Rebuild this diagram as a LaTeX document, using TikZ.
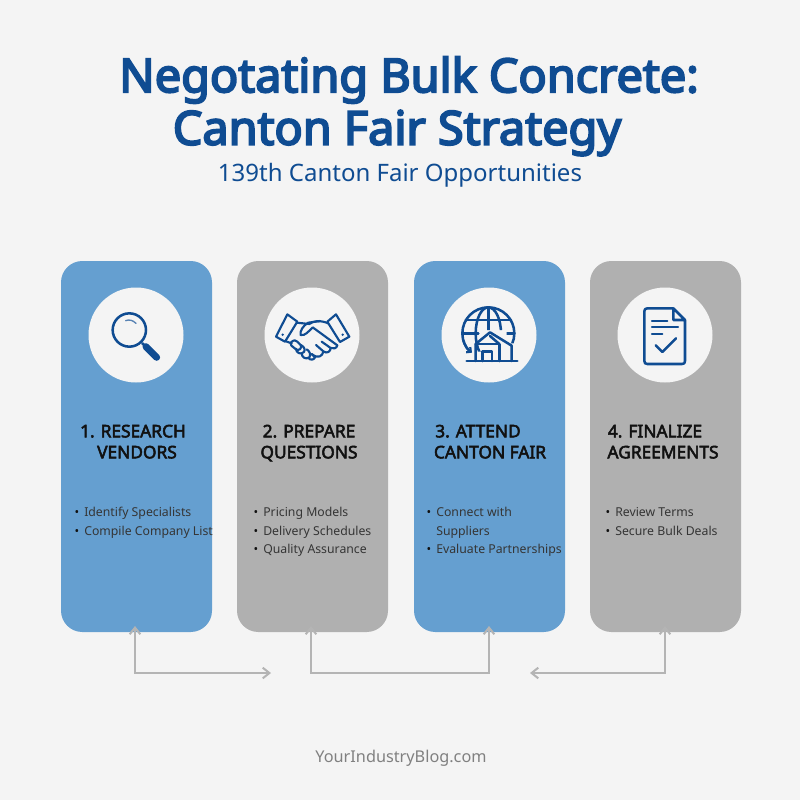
\documentclass[tikz,border=0pt]{standalone}
\usepackage{fontspec}
\setmainfont{Noto Sans}[AutoFakeBold=3]
\newfontfamily\titlefont{Noto Sans}[FakeBold=4.2]
\usetikzlibrary{arrows.meta}
\definecolor{bgc}{HTML}{F4F4F4}
\definecolor{navy}{HTML}{0F4C92}
\definecolor{cardblue}{HTML}{659FD0}
\definecolor{cardgrey}{HTML}{B0B0B0}
\definecolor{linkgrey}{HTML}{B4B4B4}
\definecolor{ink}{HTML}{111111}
\tikzset{
  x=0.75pt,y=-0.75pt,
  card/.style={inner sep=0,minimum width=113.25pt,minimum height=278.25pt,rounded corners=16pt},
  bluecard/.style={card,fill=cardblue},
  greycard/.style={card,fill=cardgrey},
  badge/.style={circle,fill=bgc,inner sep=0,minimum size=71.25pt},
  titleline/.style={inner sep=0,text=navy,text height=26pt,text depth=7pt,font=\fontsize{35.1pt}{42pt}\titlefont},
  heading/.style={inner sep=0,text height=9pt,text depth=2.5pt,font=\fontsize{13pt}{15pt}\selectfont\bfseries,text=ink},
  item/.style={inner sep=0,anchor=west,text height=7pt,text depth=2pt,font=\fontsize{9.2pt}{11pt}\selectfont,text=ink!85},
  dotmark/.style={inner sep=0,text height=7pt,text depth=2pt,font=\fontsize{9.2pt}{11pt}\selectfont,text=ink},
  icon/.style={draw=navy,line width=1.6pt,line join=round,line cap=round},
  link/.style={draw=linkgrey,line width=1.7pt},
  bothheads/.style={{Straight Barb[length=5pt,width=8pt,line width=1.5pt]}-{Straight Barb[length=5pt,width=8pt,line width=1.5pt]}},
}
\begin{document}
\begin{tikzpicture}
\fill[bgc] (0,0) rectangle (800,800);
\useasboundingbox (0,0) rectangle (800,800);
\node[titleline] (title1) at (409,79.5) {Negotating Bulk Concrete:};
\node[titleline] (title2) at (397,132) {Canton Fair Strategy};
\node[inner sep=0,text=navy,text height=13pt,text depth=4pt,font=\fontsize{18pt}{22pt}\selectfont] (subtitle) at (400,175) {139th Canton Fair Opportunities};

\node[bluecard] (c1) at (136.5,446.5) {};
\node[greycard] (c2) at (312.5,446.5) {};
\node[bluecard] (c3) at (489.5,446.5) {};
\node[greycard] (c4) at (665.5,446.5) {};
\node[badge] (b1) at (136,335) {};
\node[badge] (b2) at (312,335) {};
\node[badge] (b3) at (489,335) {};
\node[badge] (b4) at (665,335) {};

\begin{scope}[shift={(60,280)},x=0.25pt,y=-0.25pt]
% magnifier
\draw[icon,line width=1.9pt] (208,150) circle (50);
\draw[icon,line width=1pt,draw=navy!70] (197,122) .. controls (207,118) and (218,120) .. (228,130);
\draw[icon,line width=2pt] (247,190) -- (258,200);
\draw[icon,line width=5.2pt] (258,200) -- (290,232);
% handshake
\draw[icon] (682,103) -- (712,125) -- (675,185) -- (648,170) -- cycle;
\draw[icon] (828,103) -- (868,170) -- (840,186) -- (802,125) -- cycle;
\fill[navy] (668,164) circle (4) (848,164) circle (4);
\draw[icon] (710,128) -- (748,132) .. controls (760,122) and (780,120) .. (805,130);
\draw[icon] (780,123) -- (745,128) .. controls (730,135) and (718,155) .. (722,165) .. controls (735,168) and (745,155) .. (758,142) -- (832,196);
\draw[icon] (675,183) -- (695,190);
\draw[icon] (832,196) .. controls (830,205) and (820,208) .. (812,204) -- (785,185);
\draw[icon] (812,204) .. controls (812,215) and (800,222) .. (790,214) -- (768,195);
\draw[icon] (790,214) .. controls (788,228) and (775,238) .. (755,222);
\draw[icon] (700,182) .. controls (690,186) and (690,195) .. (698,200) -- (708,208) .. controls (715,214) and (728,205) .. (722,195) -- (712,185) .. controls (706,180) and (702,181) .. (700,182);
\draw[icon] (708,206) .. controls (708,218) and (722,226) .. (732,216) .. controls (738,208) and (730,198) .. (722,195);
\draw[icon] (725,220) .. controls (725,232) and (738,240) .. (748,232) .. controls (754,224) and (748,212) .. (740,208);
\draw[icon] (745,233) .. controls (750,242) and (762,240) .. (765,232) -- (755,222);
\end{scope}

\begin{scope}[shift={(410,280)},x=0.25pt,y=-0.25pt]
% globe
\begin{scope}
\clip (130,60) rectangle (340,150) (130,150) rectangle (215,215) (290,150) rectangle (340,190);
\draw[icon,line width=1.9pt] (235,160) circle (78);
\draw[icon,line width=1.9pt] (235,160) ellipse (38 and 78);
\draw[icon,line width=1.9pt] (235,82) -- (235,150);
\draw[icon,line width=1.9pt] (167,120) -- (303,120);
\draw[icon,line width=1.9pt] (157,160) -- (205,160);
\draw[icon,line width=1.9pt] (265,160) -- (313,160);
\end{scope}
\draw[icon,-{Straight Barb[length=2.5pt,width=5pt]}] (160,183) .. controls (165,197) and (172,207) .. (186,218);
% warehouse
\draw[icon,line width=1.9pt] (170,243) -- (322,243);
\draw[icon,line width=1.9pt] (197,243) -- (197,192) -- (240,157) -- (305,197) -- (305,243);
\draw[icon,line width=1.9pt] (197,192) -- (268,192) -- (268,243);
\draw[icon,line width=1.9pt] (268,192) -- (240,168);
\draw[icon,line width=1.9pt] (218,243) -- (218,215) -- (246,215) -- (246,243);
% document
\draw[icon,line width=1.9pt] (790,85) -- (712,85) .. controls (706,85) and (703,88) .. (703,94) -- (703,243) .. controls (703,249) and (706,252) .. (712,252) -- (816,252) .. controls (822,252) and (825,249) .. (825,243) -- (825,120) -- (790,85) -- (790,120) -- (825,120);
\draw[icon] (726,122) -- (772,122);
\draw[icon] (726,142) -- (804,142);
\draw[icon] (726,162) -- (757,162);
\draw[icon,line width=1.9pt] (737,196) -- (757,216) -- (798,175);
\end{scope}

\node[heading] (h1a) at (133,433) {1. RESEARCH};
\node[heading] (h1b) at (137,454) {VENDORS};
\node[heading] (h2a) at (309,433) {2. PREPARE};
\node[heading] (h2b) at (309,454) {QUESTIONS};
\node[heading] (h3a) at (478,433) {3. ATTEND};
\node[heading] (h3b) at (490,454) {CANTON FAIR};
\node[heading] (h4a) at (655,433) {4. FINALIZE};
\node[heading] (h4b) at (663,454) {AGREEMENTS};

\node[dotmark] (d11) at (77,513.5) {•};
\node[item] (t11) at (84,513.5) {Identify Specialists};
\node[dotmark] (d12) at (77,532.5) {•};
\node[item] (t12) at (84,532.5) {Compile Company List};
\node[dotmark] (d21) at (256,513.5) {•};
\node[item] (t21) at (263,513.5) {Pricing Models};
\node[dotmark] (d22) at (256,532.5) {•};
\node[item] (t22) at (263,532.5) {Delivery Schedules};
\node[dotmark] (d23) at (256,550.5) {•};
\node[item] (t23) at (263,550.5) {Quality Assurance};
\node[dotmark] (d31) at (429,513.5) {•};
\node[item] (t31) at (436,513.5) {Connect with};
\node[item] (t32) at (436,532.5) {Suppliers};
\node[dotmark] (d33) at (429,550.5) {•};
\node[item] (t33) at (436,550.5) {Evaluate Partnerships};
\node[dotmark] (d41) at (608,513.5) {•};
\node[item] (t41) at (615,513.5) {Review Terms};
\node[dotmark] (d42) at (608,532.5) {•};
\node[item] (t42) at (615,532.5) {Secure Bulk Deals};

\coordinate (p1) at (135,626);
\coordinate (e1) at (271,673);
\coordinate (p2) at (311,626);
\coordinate (p3) at (489,626);
\coordinate (p4) at (665,626);
\coordinate (e4) at (530,673);
\draw[link,bothheads] (p1) |- (e1);
\draw[link,bothheads] (p2) -- (311,673) -- (489,673) -- (p3);
\draw[link,bothheads] (p4) |- (e4);

\node[inner sep=0,text=black!50,text height=9pt,text depth=3pt,font=\fontsize{12.2pt}{15pt}\selectfont] (footer) at (401,758) {YourIndustryBlog.com};
\end{tikzpicture}
\end{document}
